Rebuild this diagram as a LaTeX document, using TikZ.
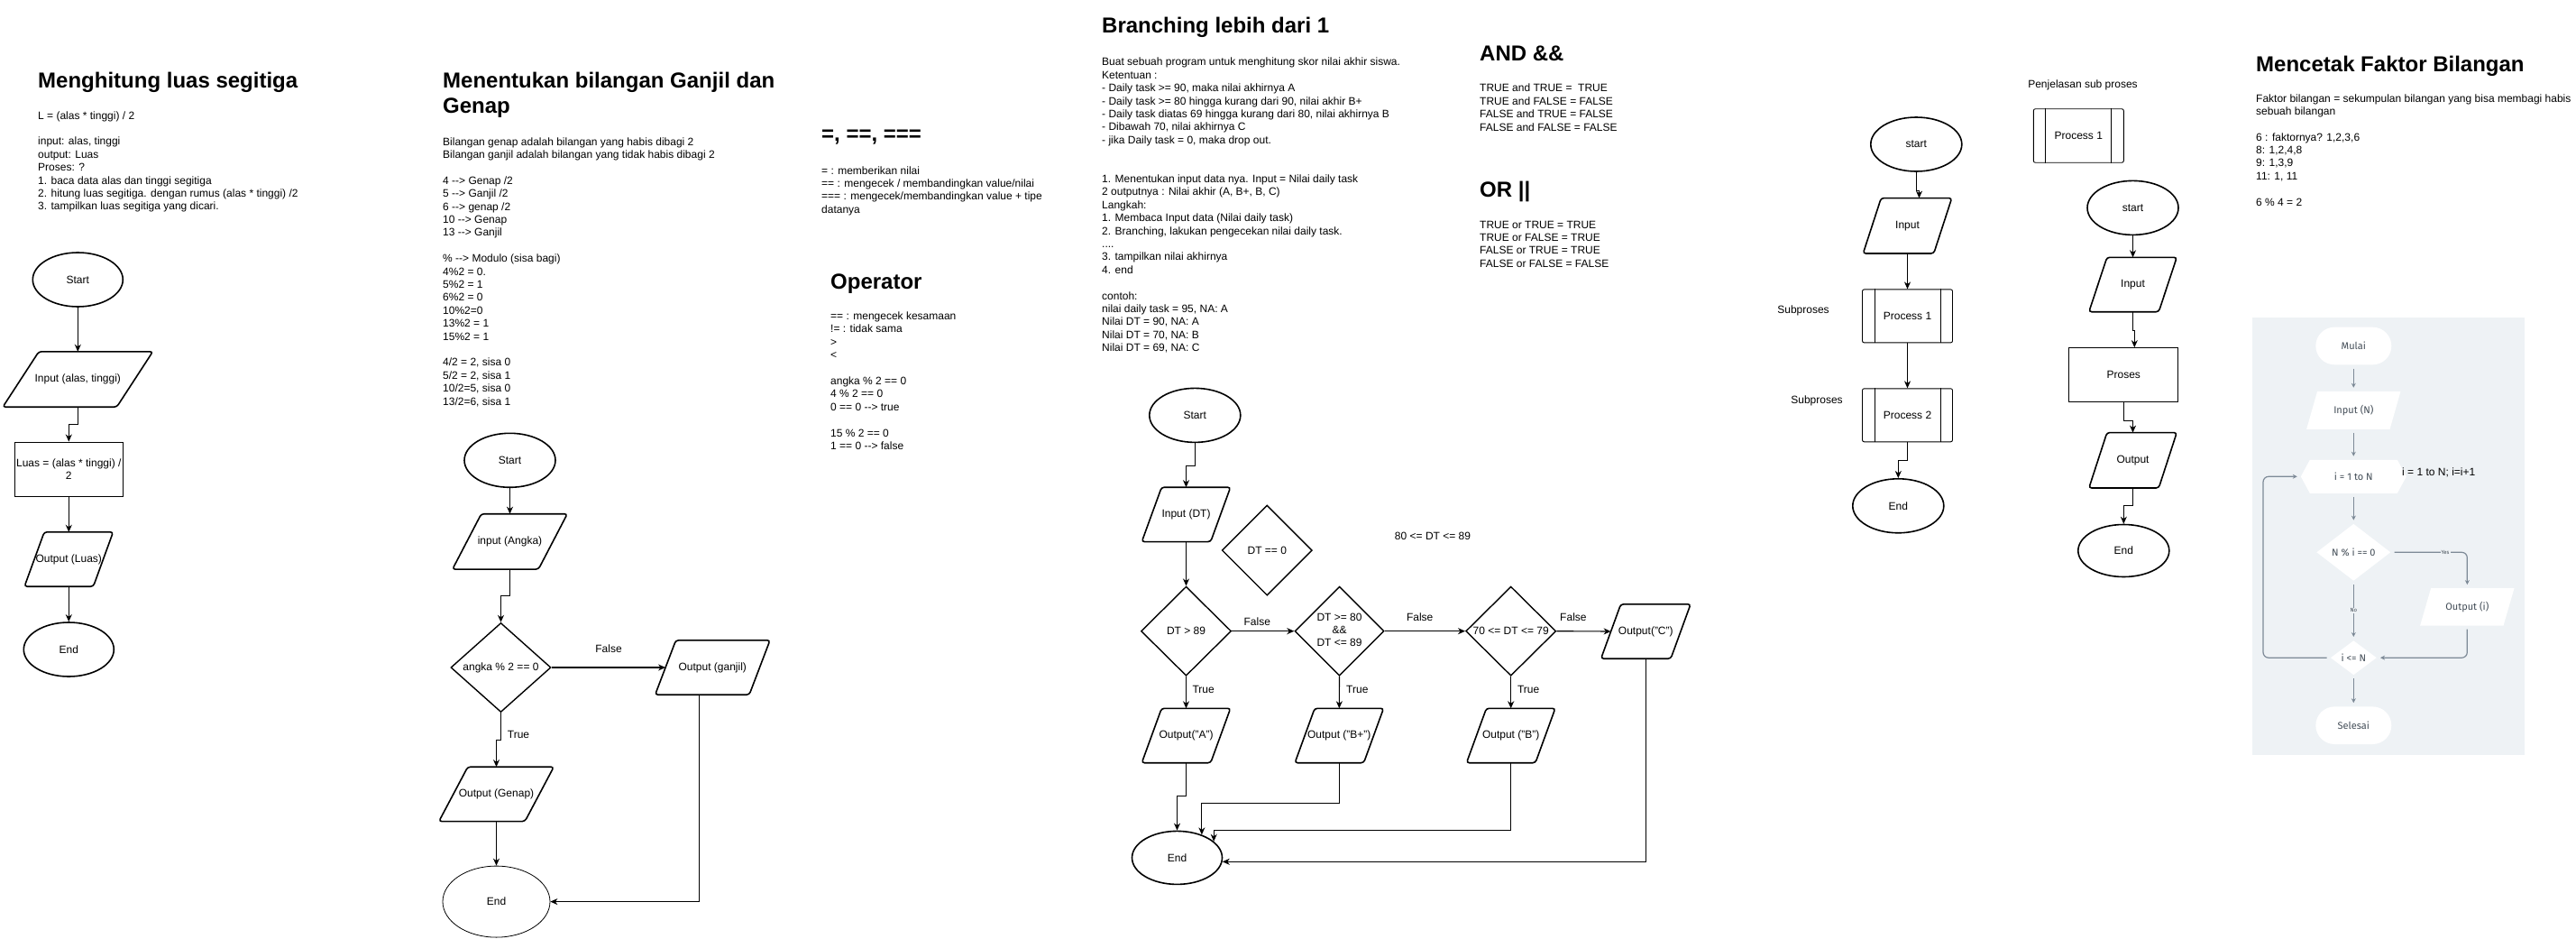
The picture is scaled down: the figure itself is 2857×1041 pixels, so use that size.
\documentclass[tikz,border=0pt]{standalone}
\usepackage{fontspec}
\setmainfont{Liberation Sans}
\newfontfamily\panelfont{Fira Sans}
\usetikzlibrary{shapes.geometric,shapes.misc,arrows.meta,calc}
\pgfdeclarelayer{bg}
\pgfdeclarelayer{bgfill}
\pgfsetlayers{bg,bgfill,main}
\definecolor{panelbg}{HTML}{EEF2F5}
\definecolor{panelln}{HTML}{7D8A97}
\definecolor{paneltx}{HTML}{434D57}
\newcommand{\txtlines}[1]{\vtop{\halign{##\hfil\cr#1\crcr}}}
\newcommand{\zw}[1]{\makebox[0pt]{#1}}
\newcommand{\dar}{-\kern0pt->}
\tikzset{
  f12/.style={font=\fontsize{12}{14.4}\selectfont},
  ttl/.style={anchor=base west, inner sep=0, font=\fontsize{24}{28.8}\selectfont\bfseries},
  bodytxt/.style={anchor=base west, inner sep=0, f12},
  lbl/.style={inner sep=0, f12},
  term/.style 2 args={ellipse, draw, line width=1.6pt, inner sep=0, minimum width=#1pt, minimum height=#2pt, f12},
  dec/.style 2 args={diamond, draw, line width=1.4pt, inner sep=0, minimum width=#1pt, minimum height=#2pt, f12},
  rectbox/.style 2 args={rectangle, draw, line width=0.9pt, inner sep=0, minimum width=#1pt, minimum height=#2pt, f12, align=center},
  proc/.style={rectangle, draw, line width=0.9pt, rounded corners=2pt, inner sep=0, f12},
  iotxt/.style={rectangle, draw=none, inner sep=0, f12, align=center},
  ioline/.style={draw, line width=1.6pt, rounded corners=3pt},
  thinln/.style={draw, line width=0.9pt},
  conn/.style={draw, line width=1.1pt, -{Stealth[length=8pt,width=7pt,inset=2.5pt]}},
  ptxt/.style={inner sep=0, font=\panelfont\fontsize{11}{13}\selectfont, text=paneltx, align=center},
  pterm/.style={rounded rectangle, fill=white, draw=none, minimum width=84pt, minimum height=41.6pt, ptxt},
  pdec/.style 2 args={diamond, fill=white, draw=none, minimum width=#1pt, minimum height=#2pt, ptxt},
  pconn/.style={draw=panelln, line width=1.2pt, -{Stealth[length=5pt,width=5pt]}, shorten <=4pt, shorten >=4pt, rounded corners=6pt},
  plbl/.style={inner sep=1pt, fill=panelbg, font=\panelfont\fontsize{6}{7}\selectfont, text=paneltx},
}
% \iobox{name}{cx}{cy}{w}{h}{off}{text}
\newcommand{\iobox}[7]{%
  \node[iotxt, minimum width=#4pt, minimum height=#5pt] (#1) at (#2,#3) {#7};
  \draw[ioline] ($(#1.north west)+(#6,0)$) -- (#1.north east) -- ($(#1.south east)+(-#6,0)$) -- (#1.south west) -- cycle;}
% \procbox{name}{cx}{cy}{w}{h}{text}
\newcommand{\procbox}[6]{%
  \node[proc, minimum width=#4pt, minimum height=#5pt] (#1) at (#2,#3) {#6};
  \draw[thinln] ($(#1.north west)+(14,0)$) -- ($(#1.south west)+(14,0)$);
  \draw[thinln] ($(#1.north east)+(-14,0)$) -- ($(#1.south east)+(-14,0)$);}
% \pio{name}{cx}{cy}{w}{h}{off}{text}
\newcommand{\pio}[7]{%
  \node[ptxt, minimum width=#4pt, minimum height=#5pt] (#1) at (#2,#3) {#7};
  \begin{pgfonlayer}{bgfill}
  \fill[white] ($(#1.north west)+(#6,0)$) -- (#1.north east) -- ($(#1.south east)+(-#6,0)$) -- (#1.south west) -- cycle;
  \end{pgfonlayer}}
\begin{document}
\begin{tikzpicture}[x=1pt,y=-1pt]
\useasboundingbox (0,0) rectangle (2857,1041);
\begin{pgfonlayer}{bg}
\fill[white] (0,0) rectangle (2857,1041);
\fill[panelbg] (2497.5,351.7) rectangle (2800,836.7);
\end{pgfonlayer}

% ---------- Section 1 ----------
\node[ttl] (s1ttl) at (42,97) {Menghitung luas segitiga};
\node[bodytxt] (s1txt) at (42,132) {\txtlines{L = (alas * tinggi) / 2\cr
\cr
input: alas, tinggi\cr
output: Luas\cr
Proses: ?\cr
1. baca data alas dan tinggi segitiga\cr
2. hitung luas segitiga. dengan rumus (alas * tinggi) /2\cr
3. tampilkan luas segitiga yang dicari.}};
\node[term={100}{60}] (s1start) at (86.3,310) {Start};
\iobox{s1in}{86.3}{420.5}{166}{61}{40}{Input (alas, tinggi)}
\node[rectbox={120}{60}] (s1proc) at (76.3,520) {Luas = (alas * tinggi) /\\2};
\iobox{s1out}{76.3}{620}{98}{60}{22}{Output (Luas)}
\node[term={100}{60}] (s1end) at (76.3,720) {End};
\draw[conn] (s1start.south) -- (s1in.north);
\draw[conn] (s1in.south) -- ++(0,19.7) -| (s1proc.north);
\draw[conn] (s1proc.south) -- (s1out.north);
\draw[conn] (s1out.south) -- (s1end.north);

% ---------- Section 2 ----------
\node[ttl] (s2ttl) at (491,97) {\txtlines{Menentukan bilangan Ganjil dan\cr Genap}};
\node[bodytxt] (s2txt) at (491,161) {\txtlines{Bilangan genap adalah bilangan yang habis dibagi 2\cr
Bilangan ganjil adalah bilangan yang tidak habis dibagi 2\cr
\cr
4 \dar{} Genap /2\cr
5 \dar{} Ganjil /2\cr
6 \dar{} genap /2\cr
10 \dar{} Genap\cr
13 \dar{} Ganjil\cr
\cr
\% \dar{} Modulo (sisa bagi)\cr
4\%2 = 0.\cr
5\%2 = 1\cr
6\%2 = 0\cr
10\%2=0\cr
13\%2 = 1\cr
15\%2 = 1\cr
\cr
4/2 = 2, sisa 0\cr
5/2 = 2, sisa 1\cr
10/2=5, sisa 0\cr
13/2=6, sisa 1}};
\node[term={101}{60}] (s2start) at (565.5,510.3) {Start};
\iobox{s2in}{565.5}{600.4}{127}{61}{32}{input (Angka)}
\node[dec={111}{99}] (s2dec) at (555.5,740) {\zw{angka \% 2 == 0}};
\iobox{s2gj}{790.3}{740}{127}{60}{23}{Output (ganjil)}
\iobox{s2gn}{550.5}{880.4}{127}{60}{32}{Output (Genap)}
\node[term={119}{79}, line width=0.8pt] (s2end) at (550.5,999.6) {End};
\coordinate (s2gjin) at ($(s2gj.west)+(11.5,0)$);
\coordinate (s2gjout) at ($(s2gj.south)+(-15,0)$);
\draw[conn] (s2start.south) -- (s2in.north);
\draw[conn] (s2in.south) -- ++(0,29.6) -| (s2dec.north);
\draw[conn] (s2dec.east) -- (s2gjin);
\node[lbl] (s2f) at (675,719.7) {False};
\draw[conn] (s2dec.south) -- ++(0,30.3) -| (s2gn.north);
\node[lbl] (s2t) at (575,814.4) {True};
\draw[conn] (s2gn.south) -- (s2end.north);
\draw[conn] (s2gjout) |- (s2end.east);

% ---------- Section 3 ----------
\node[ttl] (s3ttl) at (911,156) {=, ==, ===};
\node[bodytxt] (s3txt) at (911,193) {\txtlines{= : memberikan nilai\cr
== : mengecek / membandingkan value/nilai\cr
=== : mengecek/membandingkan value + tipe\cr
datanya}};
\node[ttl] (s3ttl2) at (921,320) {Operator};
\node[bodytxt] (s3txt2) at (921,354.5) {\txtlines{== : mengecek kesamaan\cr
!= : tidak sama\cr
>\cr
<\cr
\cr
angka \% 2 == 0\cr
4 \% 2 == 0\cr
0 == 0 \dar{} true\cr
\cr
15 \% 2 == 0\cr
1 == 0 \dar{} false}};

% ---------- Section 4 ----------
\node[ttl] (s4ttl) at (1222,37) {Branching lebih dari 1};
\node[bodytxt] (s4txt) at (1222,73) {\txtlines{Buat sebuah program untuk menghitung skor nilai akhir siswa.\cr
Ketentuan :\cr
- Daily task >= 90, maka nilai akhirnya A\cr
- Daily task >= 80 hingga kurang dari 90, nilai akhir B+\cr
- Daily task diatas 69 hingga kurang dari 80, nilai akhirnya B\cr
- Dibawah 70, nilai akhirnya C\cr
- jika Daily task = 0, maka drop out.\cr
\cr
\cr
1. Menentukan input data nya. Input = Nilai daily task\cr
2 outputnya : Nilai akhir (A, B+, B, C)\cr
Langkah:\cr
1. Membaca Input data (Nilai daily task)\cr
2. Branching, lakukan pengecekan nilai daily task.\cr
....\cr
3. tampilkan nilai akhirnya\cr
4. end\cr
\cr
contoh:\cr
nilai daily task = 95, NA: A\cr
Nilai DT = 90, NA: A\cr
Nilai DT = 70, NA: B\cr
Nilai DT = 69, NA: C}};

% ---------- Section 5 ----------
\node[ttl] (s5ttl) at (1641,67) {AND \&\&};
\node[bodytxt] (s5txt) at (1641,102) {\txtlines{TRUE and TRUE =\ \ TRUE\cr
TRUE and FALSE = FALSE\cr
FALSE and TRUE = FALSE\cr
FALSE and FALSE = FALSE}};
\node[ttl] (s5ttl2) at (1641,218) {OR ||};
\node[bodytxt] (s5txt2) at (1641,253) {\txtlines{TRUE or TRUE = TRUE\cr
TRUE or FALSE = TRUE\cr
FALSE or TRUE = TRUE\cr
FALSE or FALSE = FALSE}};

% ---------- Section 6 : branching flowchart ----------
\node[term={101}{60}] (bstart) at (1325.3,460.4) {Start};
\iobox{bin}{1315.5}{570.4}{98}{60}{22}{Input (DT)}
\node[dec={100}{99}] (bd1) at (1315.5,699.7) {\zw{DT > 89}};
\node[dec={100}{100}] (bd0) at (1405.3,610.1) {\zw{DT == 0}};
\node[lbl] (bnote) at (1589,594.6) {80 <= DT <= 89};
\node[dec={99}{99}] (bd2) at (1485.5,699.7) {\zw{\begin{tabular}{@{}c@{}}DT >= 80\\\&\&\\DT <= 89\end{tabular}}};
\node[dec={100}{99}] (bd3) at (1675.7,699.7) {\zw{70 <= DT <= 79}};
\iobox{boC}{1825.3}{700}{99}{60}{22}{Output("C")}
\iobox{boA}{1315.5}{815.5}{98}{60}{22}{Output("A")}
\iobox{boBp}{1485.3}{815.5}{98}{60}{22}{Output ("B+")}
\iobox{boB}{1675.7}{815.5}{98}{60}{22}{Output ("B")}
\node[term={100}{59}] (bend) at (1305.5,950.9) {End};
\coordinate (boCin) at ($(boC.west)+(11,0)$);
\draw[conn] (bstart.south) -- ++(0,25.1) -| (bin.north);
\draw[conn] (bin.south) -- (bd1.north);
\draw[conn] (bd1.east) -- (bd2.west);
\node[lbl] (bf1) at (1394.3,689.3) {False};
\draw[conn] (bd2.east) -- (bd3.west);
\node[lbl] (bf2) at (1574.7,684.5) {False};
\draw[conn] (bd3.east) -- (boCin);
\node[lbl] (bf3) at (1744.9,684.5) {False};
\draw[conn] (bd1.south) -- (boA.north);
\node[lbl] (bt1) at (1334.7,764.8) {True};
\draw[conn] (bd2.south) -- (boBp.north);
\node[lbl] (bt2) at (1505.3,764.8) {True};
\draw[conn] (bd3.south) -- (boB.north);
\node[lbl] (bt3) at (1695.1,764.8) {True};
\draw[conn] (boA.south) -- ++(0,36.9) -| (bend.north);
\draw[conn] (boBp.south) -- ++(0,45.1) -| (bend.43.8);
\draw[conn] (boB.south) -- ++(0,74.7) -| (bend.24.2);
\draw[conn] (boC.south) |- (bend.-5.6);

% ---------- Section 7 : subproses ----------
\node[term={101}{60}] (spstart) at (2125.3,160) {start};
\iobox{spin}{2115.5}{250.3}{98}{61}{20}{Input}
\procbox{spp1}{2115.5}{350.4}{100}{59}{Process 1}
\procbox{spp2}{2115.5}{460.3}{100}{59}{Process 2}
\node[term={101}{60}] (spend) at (2105.3,560.8) {End};
\node[lbl] (spl1) at (2000,344.5) {Subproses};
\node[lbl] (spl2) at (2015,444.8) {Subproses};
\node[lbl] (sqhead) at (2310,94.8) {Penjelasan sub proses};
\procbox{sqleg}{2305.3}{150.5}{100}{59.5}{Process 1}
\node[term={101}{60}] (sqstart) at (2365.5,230.4) {start};
\iobox{sqin}{2365.5}{315.5}{97}{60}{20}{Input}
\node[rectbox={121}{60}] (sqpr) at (2355.3,415.6) {Proses};
\iobox{sqout}{2365.5}{510.3}{97}{61}{20}{Output}
\node[term={101}{58}] (sqend) at (2355.3,610.5) {End};
\draw[conn] (spstart.south) -- ++(0,20.4) -| ($(spin.north)+(13,0)$);
\draw[conn] (spin.south) -- (spp1.north);
\draw[conn] (spp1.south) -- (spp2.north);
\draw[conn] (spp2.south) -- ++(0,20.3) -| (spend.north);
\draw[conn] (sqstart.south) -- (sqin.north);
\draw[conn] (sqin.south) -- ++(0,20.4) -| ($(sqpr.north)+(12,0)$);
\draw[conn] (sqpr.south) -- ++(0,20.4) -| (sqout.north);
\draw[conn] (sqout.south) -- ++(0,19.6) -| (sqend.north);

% ---------- Section 8 : faktor ----------
\node[ttl] (s8ttl) at (2502,79) {Mencetak Faktor Bilangan};
\node[bodytxt] (s8txt) at (2502,113) {\txtlines{Faktor bilangan = sekumpulan bilangan yang bisa membagi habis\cr
sebuah bilangan\cr
\cr
6 : faktornya? 1,2,3,6\cr
8: 1,2,4,8\cr
9: 1,3,9\cr
11: 1, 11\cr
\cr
6 \% 4 = 2}};
\node[pterm] (fstart) at (2610.3,383.5) {Mulai};
\pio{fin}{2610.3}{454.8}{104}{41.7}{12}{Input (N)}
\node[ptxt, minimum width=116.6pt, minimum height=36.7pt] (floop) at (2610.3,528.3) {i = 1 to N};
\begin{pgfonlayer}{bgfill}
\fill[white] (floop.west) -- ($(floop.north west)+(10,0)$) -- ($(floop.north east)+(-10,0)$) -- (floop.east) -- ($(floop.south east)+(-10,0)$) -- ($(floop.south west)+(10,0)$) -- cycle;
\end{pgfonlayer}
\node[lbl, anchor=west] (floopnote) at (2664,524.3) {i = 1 to N; i=i+1};
\node[pdec={82}{63}] (fdec) at (2610.3,612.3) {\zw{N \% i == 0}};
\pio{fout}{2736.3}{672.8}{104}{41}{12}{Output (i)}
\node[pdec={51}{38}] (fcond) at (2610.3,729.2) {\zw{i <= N}};
\node[pterm] (fend) at (2610.3,804.2) {Selesai};
\coordinate (floopx) at (2510,528.3);
\draw[pconn] (fstart.south) -- (fin.north);
\draw[pconn] (fin.south) -- (floop.north);
\draw[pconn] (floop.south) -- (fdec.north);
\draw[pconn] (fdec.east) -| (fout.north);
\node[plbl] (fyes) at (2712,612.3) {Yes};
\draw[pconn] (fdec.south) -- (fcond.north);
\node[plbl] (fno) at (2610.3,676.7) {No};
\draw[pconn] (fout.south) |- (fcond.east);
\draw[pconn] (fcond.west) -| (floopx) -- (floop.west);
\draw[pconn] (fcond.south) -- (fend.north);
\end{tikzpicture}
\end{document}
